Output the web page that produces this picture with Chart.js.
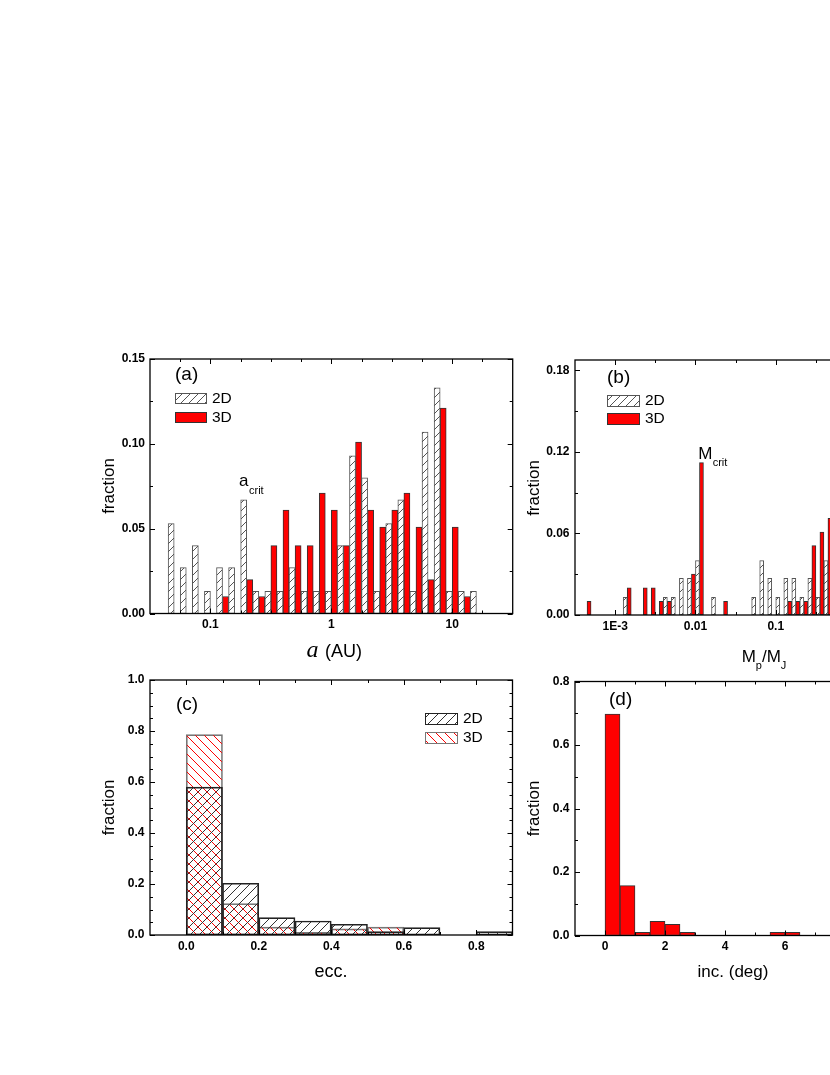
<!DOCTYPE html>
<html>
<head>
<meta charset="utf-8">
<script src="https://cdn.jsdelivr.net/npm/chart.js@4.4.1/dist/chart.umd.min.js"></script>
<style>
html, body { margin: 0; padding: 0; background: #fff; overflow: hidden; width: 830px; height: 1075px; }
canvas { position: absolute; left: 0; top: 0; }
</style>
</head>
<body>
<canvas id="cA" width="830" height="1075"></canvas>
<canvas id="cC" width="830" height="1075"></canvas>
<canvas id="cB" width="930" height="1075"></canvas>
<canvas id="cD" width="930" height="1075"></canvas>
<script>
// --- (a) semi-major axis, bins of 0.1 dex (AU) ---
const aBinsAU = [0.05012, 0.06310, 0.07943, 0.1, 0.1259, 0.1585, 0.1995, 0.2512, 0.3162, 0.3981,
  0.5012, 0.6310, 0.7943, 1, 1.259, 1.585, 1.995, 2.512, 3.162, 3.981,
  5.012, 6.310, 7.943, 10, 12.59, 15.85];
const a2D = [0.053, 0.027, 0.040, 0.013, 0.027, 0.027, 0.067, 0.013, 0.013, 0.013,
  0.027, 0.013, 0.013, 0.013, 0.040, 0.093, 0.080, 0.013, 0.053, 0.067,
  0.013, 0.107, 0.133, 0.013, 0.013, 0.013];
const a3D = [null, null, null, null, 0.010, null, 0.020, 0.010, 0.040, 0.061,
  0.040, 0.040, 0.071, 0.061, 0.040, 0.101, 0.061, 0.051, 0.061, 0.071,
  0.051, 0.020, 0.121, 0.051, 0.010, null];
const aXMajor = [0.1, 1, 10];
const aXMinor = [0.05623, 0.1778, 0.3162, 0.5623, 1.778, 3.162, 5.623, 17.78];
const aYMajor = [0, 0.05, 0.10, 0.15];
const aYMinor = [0.025, 0.075, 0.125];

// --- (b) planet mass, bins of 0.1 dex (Mp/MJ) ---
const mBins = [4.467e-4, 5.623e-4, 7.079e-4, 8.913e-4, 1.122e-3, 1.413e-3, 1.778e-3, 2.239e-3, 2.818e-3, 3.548e-3,
  4.467e-3, 5.623e-3, 7.079e-3, 8.913e-3, 0.01122, 0.01413, 0.01778, 0.02239, 0.02818, 0.03548,
  0.04467, 0.05623, 0.07079, 0.08913, 0.1122, 0.1413, 0.1778, 0.2239, 0.2818, 0.3548, 0.4467];
const m2D = [null, null, null, null, null, 0.013, null, null, null, null,
  0.013, 0.013, 0.027, 0.027, 0.040, null, 0.013, null, null, null,
  null, 0.013, 0.040, 0.027, 0.013, 0.027, 0.027, 0.013, 0.027, 0.013, 0.040];
const m3D = [0.010, null, null, null, null, 0.020, null, 0.020, 0.020, 0.010,
  0.010, null, null, 0.030, 0.112, null, null, 0.010, null, null,
  null, null, null, null, null, 0.010, 0.010, 0.010, 0.051, 0.061, 0.071];
const mXMajor = [1e-3, 0.01, 0.1, 1];
const mXLabels = ['1E-3', '0.01', '0.1', '1'];
const mXMinor = [0.003162, 0.03162, 0.3162];
const mYMajor = [0, 0.06, 0.12, 0.18];
const mYMinor = [0.03, 0.09, 0.15];

// --- (c) eccentricity ---
const eBins = [0.05, 0.15, 0.25, 0.35, 0.45, 0.55, 0.65, 0.75, 0.85];
const e2D = [0.580, 0.203, 0.068, 0.055, 0.042, 0.013, 0.029, null, 0.013];
const e3D = [0.786, 0.123, 0.031, 0.010, 0.024, 0.031, null, null, null];
const eXMajor = [0, 0.2, 0.4, 0.6, 0.8];
const eXMinor = [0.1, 0.3, 0.5, 0.7];
const eYMajor = [0, 0.2, 0.4, 0.6, 0.8, 1.0];
const eYMinor = [0.05, 0.1, 0.15, 0.25, 0.3, 0.35, 0.45, 0.5, 0.55, 0.65, 0.7, 0.75, 0.85, 0.9, 0.95];

// --- (d) inclination (deg) ---
const iBins = [0.25, 0.75, 1.25, 1.75, 2.25, 2.75, 5.75, 6.25];
const i3D = [0.697, 0.157, 0.010, 0.045, 0.035, 0.010, 0.010, 0.010];
const iXMajor = [0, 2, 4, 6, 8];
const iXMinor = [1, 3, 5, 7];
const iYMajor = [0, 0.2, 0.4, 0.6, 0.8];
const iYMinor = [0.1, 0.3, 0.5, 0.7];

const PAGE_H = 1075;
const SANS = "'Liberation Sans', Arial, sans-serif";
Chart.defaults.color = '#000';
Chart.defaults.font.family = SANS;

// --- Helpers ---
function hatch(color, size, dir, lw, bg) {
  const c = document.createElement('canvas');
  c.width = c.height = size;
  const g = c.getContext('2d');
  if (bg) { g.fillStyle = bg; g.fillRect(0, 0, size, size); }
  g.strokeStyle = color;
  g.lineWidth = lw;
  g.beginPath();
  if (dir > 0) {
    g.moveTo(0, size); g.lineTo(size, 0);
    g.moveTo(-2, 2); g.lineTo(2, -2);
    g.moveTo(size - 2, size + 2); g.lineTo(size + 2, size - 2);
  } else {
    g.moveTo(0, 0); g.lineTo(size, size);
    g.moveTo(size - 2, -2); g.lineTo(size + 2, 2);
    g.moveTo(-2, size - 2); g.lineTo(2, size + 2);
  }
  g.stroke();
  return g.createPattern(c, 'repeat');
}
const hatch2D = hatch('#555', 8, 1, 1, '#fff');
const hatchC2 = hatch('#333', 9, 1, 1, null);
const hatchC3 = hatch('#ff0000', 9, -1, 1, null);
const RED = '#ff0000';

function text(ctx, s, x, y, size, o = {}) {
  ctx.save();
  ctx.font = (o.style || '') + ' ' + size + 'px ' + (o.family || SANS);
  ctx.textAlign = o.align || 'left';
  ctx.textBaseline = o.base || 'alphabetic';
  ctx.fillStyle = '#000';
  if (o.rot) { ctx.translate(x, y); ctx.rotate(o.rot); ctx.fillText(s, 0, 0); }
  else ctx.fillText(s, x, y);
  const w = ctx.measureText(s).width;
  ctx.restore();
  return w;
}
function swatch(ctx, x, y, w, h, fill, stroke) {
  ctx.save();
  ctx.fillStyle = fill;
  ctx.fillRect(x, y, w, h);
  ctx.strokeStyle = stroke;
  ctx.lineWidth = 1;
  ctx.strokeRect(x + 0.5, y + 0.5, w - 1, h - 1);
  ctx.restore();
}
function seg(ctx, x1, y1, x2, y2) {
  ctx.beginPath(); ctx.moveTo(x1, y1); ctx.lineTo(x2, y2); ctx.stroke();
}

function tickSet(major, minor) {
  return s => {
    s.ticks = major.map(v => ({ value: v, major: true }))
      .concat(minor.map(v => ({ value: v, major: false })))
      .sort((p, q) => p.value - q.value);
  };
}
function tickOpts(fmt) {
  return {
    autoSkip: false, maxRotation: 0, minRotation: 0, padding: 4,
    font: { size: 12, weight: 'bold' },
    callback: (v, i, t) => (t[i] && t[i].major ? fmt(v) : '')
  };
}

// inward ticks on all four sides + box
function drawFrame(chart) {
  const { ctx, chartArea: a, scales } = chart;
  ctx.save();
  ctx.strokeStyle = '#000';
  ctx.lineWidth = 1;
  scales.x.ticks.forEach(t => {
    const p = Math.round(scales.x.getPixelForValue(t.value)) + 0.5;
    const L = t.major ? 5 : 3;
    seg(ctx, p, a.bottom, p, a.bottom - L);
    seg(ctx, p, a.top, p, a.top + L);
  });
  scales.y.ticks.forEach(t => {
    const p = Math.round(scales.y.getPixelForValue(t.value)) + 0.5;
    const L = t.major ? 5 : 3;
    seg(ctx, a.left, p, a.left + L, p);
    seg(ctx, a.right, p, a.right - L, p);
  });
  ctx.lineWidth = 1.3;
  ctx.strokeRect(a.left, a.top, a.right - a.left, a.bottom - a.top);
  ctx.restore();
}

function panel(id, area, cw, xOpt, yOpt, datasets, extra) {
  const base = {
    bounds: 'data',
    grid: { display: false, drawTicks: false },
    border: { display: false }
  };
  return new Chart(document.getElementById(id), {
    type: 'bar',
    data: { datasets },
    options: {
      responsive: false, animation: false, devicePixelRatio: 1, events: [],
      layout: { padding: { top: area.top, right: cw - area.right, left: 0, bottom: 0 } },
      plugins: { legend: { display: false }, tooltip: { enabled: false } },
      datasets: { bar: { barPercentage: 1, categoryPercentage: 1, borderSkipped: false } },
      scales: {
        x: Object.assign({}, base, { offset: false, afterFit: s => { s.height = PAGE_H - area.bottom; } }, xOpt),
        y: Object.assign({}, base, { afterFit: s => { s.width = area.left; } }, yOpt)
      }
    },
    plugins: [{ id: 'frame', afterDraw(chart) { drawFrame(chart); extra(chart.ctx); } }]
  });
}
const pts = (xs, ys) => xs.map((x, i) => ({ x, y: ys[i] }));
const fix = n => v => Number(v).toFixed(n);

// --- (a) ---
panel('cA', { left: 150, right: 512.7, top: 359, bottom: 613.5 }, 830,
  { type: 'logarithmic', min: 0.031623, max: 31.623, afterBuildTicks: tickSet(aXMajor, aXMinor),
    ticks: tickOpts(v => String(v)) },
  { type: 'linear', min: 0, max: 0.15, afterBuildTicks: tickSet(aYMajor, aYMinor),
    ticks: Object.assign(tickOpts(fix(2)), { padding: 5 }) },
  [
    { label: '2D', data: pts(aBinsAU, a2D), backgroundColor: hatch2D, borderColor: '#555', borderWidth: 1 },
    { label: '3D', data: pts(aBinsAU, a3D), backgroundColor: RED, borderColor: '#333', borderWidth: 1 }
  ],
  ctx => {
    text(ctx, '(a)', 175, 375, 19, { base: 'middle' });
    swatch(ctx, 175, 393, 32, 11, hatch2D, '#555');
    text(ctx, '2D', 212, 399, 15.5, { base: 'middle' });
    swatch(ctx, 175, 412, 32, 11, RED, '#333');
    text(ctx, '3D', 212, 418, 15.5, { base: 'middle' });
    text(ctx, 'a', 239, 486, 17);
    text(ctx, 'crit', 249, 493.5, 11);
    text(ctx, 'fraction', 113.5, 486, 17, { rot: -Math.PI / 2, align: 'center' });
    text(ctx, 'a', 306.5, 656.5, 24, { style: 'italic', family: "'Liberation Serif', serif" });
    text(ctx, '(AU)', 325, 656.5, 18);
  });

// --- (b) ---
panel('cB', { left: 575, right: 896.2, top: 360, bottom: 615 }, 930,
  { type: 'logarithmic', min: 0.00031623, max: 3.1623, afterBuildTicks: tickSet(mXMajor, mXMinor),
    ticks: tickOpts(v => mXLabels[mXMajor.findIndex(m => Math.abs(m - v) / m < 1e-6)] || '') },
  { type: 'linear', min: 0, max: 0.1875, afterBuildTicks: tickSet(mYMajor, mYMinor),
    ticks: Object.assign(tickOpts(fix(2)), { padding: 5.5 }) },
  [
    { label: '2D', data: pts(mBins, m2D), backgroundColor: hatch2D, borderColor: '#555', borderWidth: 1 },
    { label: '3D', data: pts(mBins, m3D), backgroundColor: RED, borderColor: '#333', borderWidth: 1 }
  ],
  ctx => {
    text(ctx, '(b)', 607, 378, 19, { base: 'middle' });
    swatch(ctx, 607, 395, 33, 12, hatch2D, '#555');
    text(ctx, '2D', 645, 401, 15.5, { base: 'middle' });
    swatch(ctx, 607, 413, 33, 12, RED, '#333');
    text(ctx, '3D', 645, 419, 15.5, { base: 'middle' });
    text(ctx, 'M', 698.3, 459.3, 17);
    text(ctx, 'crit', 712.7, 466, 11);
    text(ctx, 'fraction', 538.5, 488, 17, { rot: -Math.PI / 2, align: 'center' });
    let x = 741.7;
    x += text(ctx, 'M', x, 661.7, 17);
    x += text(ctx, 'p', x, 669, 11);
    x += text(ctx, '/', x, 661.7, 17);
    x += text(ctx, 'M', x, 661.7, 17);
    text(ctx, 'J', x, 669, 11);
  });

// --- (c) ---
panel('cC', { left: 150, right: 512.5, top: 680, bottom: 935 }, 830,
  { type: 'linear', min: -0.1, max: 0.9, afterBuildTicks: tickSet(eXMajor, eXMinor),
    ticks: tickOpts(fix(1)) },
  { type: 'linear', min: 0, max: 1.0, afterBuildTicks: tickSet(eYMajor, eYMinor),
    ticks: Object.assign(tickOpts(fix(1)), { padding: 5.5 }) },
  [
    { label: '2D', data: pts(eBins, e2D), grouped: false, backgroundColor: hatchC2, borderColor: '#222', borderWidth: 1 },
    { label: '3D', data: pts(eBins, e3D), grouped: false, backgroundColor: hatchC3, borderColor: '#777', borderWidth: 1 }
  ],
  ctx => {
    text(ctx, '(c)', 176, 705, 19, { base: 'middle' });
    swatch(ctx, 425, 713, 33, 12, hatchC2, '#222');
    text(ctx, '2D', 463, 719, 15.5, { base: 'middle' });
    swatch(ctx, 425, 732, 33, 12, hatchC3, '#777');
    text(ctx, '3D', 463, 738, 15.5, { base: 'middle' });
    text(ctx, 'fraction', 113.5, 807.5, 17, { rot: -Math.PI / 2, align: 'center' });
    text(ctx, 'ecc.', 331, 977, 18, { align: 'center' });
  });

// --- (d) ---
panel('cD', { left: 575, right: 875, top: 681.5, bottom: 935.5 }, 930,
  { type: 'linear', min: -1, max: 9, afterBuildTicks: tickSet(iXMajor, iXMinor),
    ticks: tickOpts(v => String(v)) },
  { type: 'linear', min: 0, max: 0.8, afterBuildTicks: tickSet(iYMajor, iYMinor),
    ticks: Object.assign(tickOpts(fix(1)), { padding: 5.5 }) },
  [
    { label: '3D', data: pts(iBins, i3D), backgroundColor: RED, borderColor: '#333', borderWidth: 1 }
  ],
  ctx => {
    text(ctx, '(d)', 609, 700, 19, { base: 'middle' });
    text(ctx, 'fraction', 538.5, 808.5, 17, { rot: -Math.PI / 2, align: 'center' });
    text(ctx, 'inc. (deg)', 733, 977, 17, { align: 'center' });
  });
</script>
</body>
</html>
